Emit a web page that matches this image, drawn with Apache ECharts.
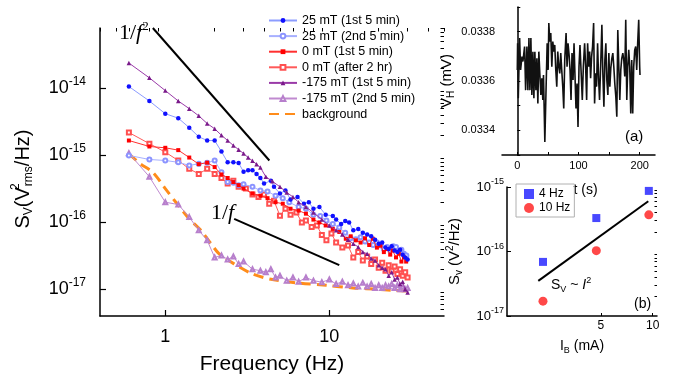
<!DOCTYPE html>
<html><head><meta charset="utf-8">
<script src="https://cdn.jsdelivr.net/npm/echarts@6/dist/echarts.min.js"></script>
<style>html,body{margin:0;padding:0;background:#fff}#c{width:673px;height:377px}</style>
</head><body><div id="c"></div>
<script>
// ---------- main panel data: [frequency (Hz), S_V (V^2/Hz)] ----------
const legendNames = ['25 mT (1st 5 min)','25 mT (2nd 5 min)','0 mT (1st 5 min)','0 mT (after 2 hr)','-175 mT (1st 5 min)','-175 mT (2nd 5 min)','background'];
const b25first = [[0.6,1.07e-14],[0.8,6.5e-15],[1.0,4.2e-15],[1.2,3.6e-15],[1.4,2.6e-15],[1.6,1.9e-15],[1.8,1.67e-15],[2.0,1.67e-15],[2.2,1.14e-15],[2.4,7.9e-16],[2.6,7.9e-16],[2.8,7.7e-16],[3.0,5.7e-16],[3.2,6.0e-16],[3.4,6.0e-16],[3.6,5.3e-16],[3.8,4.6e-16],[4.0,3.8e-16],[4.4,4.2e-16],[4.6,3.4e-16],[5.0,2.7e-16],[5.4,3.0e-16],[5.8,2.2e-16],[6.4,2.4e-16],[7.0,1.9e-16],[7.5,2.0e-16],[8.0,1.6e-16],[8.7,1.7e-16],[9.5,1.3e-16],[10.5,1.25e-16],[11.0,1.1e-16],[11.8,9.5e-17],[12.5,1.05e-16],[13.2,1.0e-16],[14,7.6e-17],[15,8.0e-17],[16,7.0e-17],[17,6.6e-17],[18,6.2e-17],[19,5.5e-17],[20,4.8e-17],[21,5.0e-17],[22,4.2e-17],[23,4.0e-17],[24,4.4e-17],[25,3.8e-17],[26,3.6e-17],[27,3.9e-17],[28,3.3e-17],[29,3.0e-17],[30,2.8e-17]];
const b25second = [[0.6,1.0e-15],[0.8,8.7e-16],[1.0,8.4e-16],[1.2,7.9e-16],[1.4,7.1e-16],[1.6,7.5e-16],[1.8,7.8e-16],[2.0,8.4e-16],[2.2,5.6e-16],[2.4,4.0e-16],[2.6,3.9e-16],[2.8,3.6e-16],[3.0,3.7e-16],[3.4,3.4e-16],[3.8,3.0e-16],[4.2,2.9e-16],[4.7,2.5e-16],[5.2,2.3e-16],[5.7,2.0e-16],[6.5,1.7e-16],[7.2,1.6e-16],[8.0,1.3e-16],[8.8,1.25e-16],[9.6,1.07e-16],[10.5,9.5e-17],[11.5,8.4e-17],[12.5,7.0e-17],[13.5,5.8e-17],[14.5,5.6e-17],[15.5,6.0e-17],[16.5,5.2e-17],[17.5,5.0e-17],[18.5,4.6e-17],[19.5,5.0e-17],[20.5,4.5e-17],[21.5,4.0e-17],[22.5,4.3e-17],[23.5,3.8e-17],[24.5,4.4e-17],[25.5,4.3e-17],[26.5,3.6e-17],[27.5,3.9e-17],[28.5,3.4e-17],[29.5,3.2e-17]];
const b0first = [[0.6,1.67e-15],[0.8,1.36e-15],[1.0,1.3e-15],[1.2,1.2e-15],[1.4,9.3e-16],[1.6,7.4e-16],[1.8,7.8e-16],[2.0,6.7e-16],[2.2,5.2e-16],[2.4,4.6e-16],[2.6,4.0e-16],[2.8,3.6e-16],[3.0,3.2e-16],[3.4,2.7e-16],[3.8,2.5e-16],[4.2,2.3e-16],[4.7,2.0e-16],[5.2,1.9e-16],[5.8,1.6e-16],[6.5,1.5e-16],[7.2,1.35e-16],[8.0,1.1e-16],[8.7,1.0e-16],[9.5,9.0e-17],[10.5,8.0e-17],[11.5,7.2e-17],[12.6,5.7e-17],[13.5,6.2e-17],[14.5,5.4e-17],[15.5,5.0e-17],[16.5,5.8e-17],[17.5,4.6e-17],[18.4,5.7e-17],[19.5,4.2e-17],[20.5,4.5e-17],[21.5,3.6e-17],[22.5,4.0e-17],[23.5,3.3e-17],[24.3,3.8e-17],[25.5,3.0e-17],[26.5,3.4e-17],[27.5,2.6e-17],[28.5,3.0e-17],[29.4,2.6e-17]];
const b0after2h = [[0.6,2.2e-15],[0.8,1.5e-15],[1.0,1.12e-15],[1.2,8.4e-16],[1.4,6.3e-16],[1.6,5.3e-16],[1.8,6.3e-16],[2.0,5.3e-16],[2.2,4.6e-16],[2.4,3.8e-16],[2.6,4.2e-16],[2.8,3.4e-16],[3.1,3.2e-16],[3.4,2.6e-16],[3.7,2.4e-16],[4.0,2.6e-16],[4.3,1.9e-16],[4.6,2.1e-16],[5.0,1.26e-16],[5.4,1.6e-16],[5.8,1.3e-16],[6.3,1.4e-16],[6.8,1.0e-16],[7.2,1.07e-16],[7.8,8.5e-17],[8.4,9.0e-17],[9.0,6.5e-17],[9.6,5.4e-17],[10.3,6.8e-17],[11,5.0e-17],[12,4.2e-17],[13,4.5e-17],[14,3.0e-17],[15,3.6e-17],[16,2.7e-17],[17,3.1e-17],[18,2.4e-17],[19,2.8e-17],[20,2.1e-17],[21,2.5e-17],[22,1.9e-17],[23,2.3e-17],[24,1.9e-17],[25,2.2e-17],[26,1.7e-17],[27,2.0e-17],[28,1.6e-17],[29,1.8e-17],[30,1.5e-17]];
const bm175first = [[0.6,2.4e-14],[0.8,1.44e-14],[1.0,9.3e-15],[1.2,6.5e-15],[1.4,5.0e-15],[1.6,3.9e-15],[1.8,3.0e-15],[2.0,2.5e-15],[2.2,2.0e-15],[2.4,1.67e-15],[2.6,1.41e-15],[2.8,1.22e-15],[3.0,1.07e-15],[3.2,9.3e-16],[3.4,8.3e-16],[3.6,7.4e-16],[3.8,6.6e-16],[4.1,4.8e-16],[4.5,4.1e-16],[5.0,3.4e-16],[5.5,2.8e-16],[6.0,2.4e-16],[6.5,2.0e-16],[7.2,1.7e-16],[8.0,1.4e-16],[9.0,1.1e-16],[10,9.0e-17],[11,7.6e-17],[12,6.6e-17],[13,5.5e-17],[14,4.8e-17],[15,4.3e-17],[16,3.6e-17],[17,3.4e-17],[18,2.9e-17],[19,2.7e-17],[20,2.3e-17],[21,2.1e-17],[22,2.0e-17],[23,1.6e-17],[24,1.8e-17],[25,1.4e-17],[26,1.5e-17],[27,1.2e-17],[28,1.3e-17],[29,1.0e-17],[30,9.0e-18]];
const bm175second = [[0.6,1.08e-15],[0.8,4.8e-16],[1.0,2.0e-16],[1.2,1.85e-16],[1.4,1.2e-16],[1.6,7.6e-17],[1.8,5.4e-17],[2.0,3.0e-17],[2.2,3.2e-17],[2.4,2.8e-17],[2.6,3.1e-17],[2.8,2.4e-17],[3.0,2.6e-17],[3.4,2.0e-17],[3.8,1.9e-17],[4.1,1.8e-17],[4.4,2.0e-17],[4.7,1.5e-17],[5.0,1.6e-17],[5.5,1.35e-17],[6.0,1.5e-17],[6.5,1.3e-17],[7.2,1.5e-17],[8.0,1.35e-17],[9.0,1.28e-17],[10,1.4e-17],[11,1.2e-17],[12,1.3e-17],[13,1.15e-17],[14,1.22e-17],[15,1.1e-17],[16,1.25e-17],[17,1.1e-17],[18,1.2e-17],[19,1.05e-17],[20,1.15e-17],[21,1.05e-17],[22,1.15e-17],[23,1.1e-17],[24,1.2e-17],[25,1.05e-17],[26,1.15e-17],[27,1.0e-17],[28,1.1e-17],[29,1.0e-17],[30,1.05e-17]];
const backgroundNoise = [[0.6,1.06e-15],[0.7,7.6e-16],[0.84,5.6e-16],[1.0,3.2e-16],[1.2,1.8e-16],[1.4,1.13e-16],[1.65,7.6e-17],[1.9,4.8e-17],[2.13,3.4e-17],[2.63,2.4e-17],[3.4,1.7e-17],[4.5,1.4e-17],[6.56,1.24e-17],[9.55,1.15e-17],[13.9,1.05e-17],[20.2,1.0e-17],[25.5,9.6e-18],[30,9.4e-18]];
const slopeF2Line = [[0.84,8.0e-14],[4.31,8.4e-16]];
const slopeF1Line = [[2.63,1.13e-16],[11.5,2.3e-17]];
// main axis ticks
const mainXLabels = [1,10];
const mainXMinor = [0.4,0.5,0.6,0.7,0.8,0.9,2,3,4,5,6,7,8,9,20,30,40,50];
const mainYLabels = [1e-17,1e-16,1e-15,1e-14];
const mainYMinor = [5e-18,6e-18,7e-18,8e-18,9e-18,2e-17,3e-17,4e-17,5e-17,6e-17,7e-17,8e-17,9e-17,2e-16,3e-16,4e-16,5e-16,6e-16,7e-16,8e-16,9e-16,2e-15,3e-15,4e-15,5e-15,6e-15,7e-15,8e-15,9e-15,2e-14,3e-14,4e-14,5e-14,6e-14,7e-14,8e-14];

// ---------- inset (a): V_H vs t ----------
const timeA = [0,0.5,1.6,3.8,5.4,7.6,9.2,11.9,13.6,15.7,17.3,19.0,20.6,22.2,23.8,25.5,27.1,28.7,30.4,32.0,33.6,35.2,36.9,38.5,40.1,41.7,42.8,45.0,47.2,48.8,50.4,51.5,53.1,54.7,56.4,58.0,59.6,61.2,62.9,64.5,66.1,67.8,69.4,71.0,72.6,74.3,75.9,77.5,79.7,81.3,82.9,84.6,86.2,87.8,89.4,91.1,92.7,94.3,95.9,97.6,99.2,100.8,102.4,104.6,106.2,107.9,110.0,111.7,113.3,114.9,116.5,118.2,119.8,121.4,123.0,124.7,126.3,127.9,129.5,131.2,132.8,134.4,136.6,138.2,139.8,141.5,143.1,144.7,146.3,148.0,149.6,151.2,152.8,154.5,156.1,157.7,159.3,161.0,162.6,164.2,165.9,167.5,169.1,170.7,172.4,174.0,175.6,177.2,178.9,180.5,182.1,183.7,185.4,187.0,188.6,190.2,191.9,193.5,195.1,196.7,198.4,200.0,200.5];
const vhA = [0.033645,0.033753,0.033530,0.033774,0.033645,0.033699,0.033679,0.033740,0.033563,0.033740,0.033563,0.033774,0.033563,0.033774,0.033543,0.033719,0.033530,0.033719,0.033563,0.033692,0.033509,0.033719,0.033624,0.033543,0.033611,0.033523,0.033624,0.033353,0.033590,0.033753,0.033645,0.033835,0.033760,0.033794,0.033658,0.033760,0.033719,0.033746,0.033645,0.033577,0.033719,0.033658,0.033631,0.033713,0.033645,0.033577,0.033489,0.033685,0.033794,0.033658,0.033753,0.033706,0.033645,0.033523,0.033713,0.033604,0.033753,0.033618,0.033489,0.033590,0.033414,0.033658,0.033746,0.033618,0.033523,0.033658,0.033753,0.033658,0.033523,0.033753,0.033658,0.033719,0.033611,0.033699,0.033740,0.033835,0.033509,0.033631,0.033577,0.033753,0.033611,0.033523,0.033692,0.033828,0.033631,0.033496,0.033685,0.033753,0.033604,0.033543,0.033713,0.033577,0.033652,0.033692,0.033713,0.033658,0.033590,0.033536,0.033455,0.033807,0.033658,0.033523,0.033645,0.033692,0.033713,0.033685,0.033618,0.033848,0.033523,0.033658,0.033726,0.033658,0.033468,0.033685,0.033468,0.033658,0.033726,0.033740,0.033645,0.033753,0.033848,0.033658,0.033624];
const aXLabels = [0,100,200];
const aXTicks = [0,50,100,150,200];
const aYLabels = [0.0334,0.0336,0.0338];
const aYTicks = [0.0333,0.0334,0.0335,0.0336,0.0337,0.0338,0.0339];

// ---------- inset (b): S_V vs I_B ----------
const currentB = [2.3,4.7,9.5];
const s4Hz = [6.9e-17,3.3e-16,8.7e-16];
const s10Hz = [1.7e-17,1.03e-16,3.7e-16];
const fitIsqLine = [[2.16,3.5e-17],[9.43,6.0e-16]];
const bXLabels = [5,10];
const bYLabels = [1e-17,1e-16,1e-15];
const bYMinor = [2e-17,3e-17,4e-17,5e-17,6e-17,7e-17,8e-17,9e-17,2e-16,3e-16,4e-16,5e-16,6e-16,7e-16,8e-16,9e-16];

const F = 'Liberation Sans';
const SERIF = 'Liberation Serif';
const BLACK = '#000';
const pow10 = v => '{b|10}{s|' + Math.round(Math.log10(v)) + '}';
const pair = (xs, ys) => xs.map((x, i) => [x, ys[i]]);

function mainLine(name, data, sym, lineColor, symColor, size, z) {
  return {name, type:'line', xAxisIndex:0, yAxisIndex:0, data, symbol:sym, symbolSize:size,
    showSymbol:true, lineStyle:{color:lineColor, width:1}, itemStyle:{color:symColor, borderWidth:1},
    z, animation:false};
}

const legendData = legendNames.map(n => n === 'background' ? {name:n, itemStyle:{opacity:0}} : n);

const chart = echarts.init(document.getElementById('c'));
chart.setOption({
  animation:false,
  backgroundColor:'#fff',
  textStyle:{fontFamily:F, color:BLACK},
  grid:[
    {left:100, top:28, width:344, height:288, outerBoundsMode:'none', containLabel:false},
    {left:502, top:7, width:153, height:148, outerBoundsMode:'none', containLabel:false},
    {left:507, top:187, width:150, height:129, outerBoundsMode:'none', containLabel:false}
  ],
  xAxis:[
    {gridIndex:0, type:'log', min:0.4, max:50,
      axisLine:{lineStyle:{color:BLACK, width:1.5}},
      axisTick:{inside:true, length:6, customValues:mainXLabels, lineStyle:{color:BLACK, width:1.2}},
      axisLabel:{customValues:mainXLabels, fontSize:18, color:BLACK, margin:12, fontFamily:F, formatter:v=>String(v)},
      splitLine:{show:false}, minorTick:{show:false},
      name:'Frequency (Hz)', nameLocation:'middle', nameGap:38, nameTextStyle:{fontSize:21, color:BLACK, fontFamily:F}},
    {gridIndex:0, type:'log', min:0.4, max:50, axisLine:{show:false},
      axisTick:{inside:true, length:3.5, customValues:mainXMinor, lineStyle:{color:BLACK, width:1}},
      axisLabel:{show:false}, splitLine:{show:false}},
    {gridIndex:1, type:'value', min:-25, max:225,
      axisLine:{lineStyle:{color:BLACK, width:1.5}},
      axisTick:{inside:true, length:3, customValues:aXTicks, lineStyle:{color:BLACK}},
      axisLabel:{customValues:aXLabels, fontSize:11, color:BLACK, margin:5, fontFamily:F},
      splitLine:{show:false},
      name:'t (s)', nameLocation:'middle', nameGap:28, nameTextStyle:{fontSize:14, color:BLACK, padding:[0,0,0,14]}},
    {gridIndex:2, type:'log', min:1.42, max:10.6,
      axisLine:{lineStyle:{color:BLACK, width:1.5}},
      axisTick:{inside:true, length:3, customValues:bXLabels, lineStyle:{color:BLACK}},
      axisLabel:{customValues:bXLabels, fontSize:12, color:BLACK, margin:4, fontFamily:F, formatter:v=>String(v)},
      splitLine:{show:false},
      name:'{m|I}{sub|B}{m| (mA)}', nameLocation:'middle', nameGap:22,
      nameTextStyle:{rich:{m:{fontSize:14, color:BLACK, fontFamily:F}, sub:{fontSize:9, color:BLACK, fontFamily:F, padding:[8,0,0,0]}}}}
  ],
  yAxis:[
    {gridIndex:0, type:'log', min:4e-18, max:8e-14,
      axisLine:{lineStyle:{color:BLACK, width:1.5}},
      axisTick:{inside:true, length:6, customValues:mainYLabels, lineStyle:{color:BLACK, width:1.2}},
      axisLabel:{customValues:mainYLabels, margin:14, formatter:pow10,
        rich:{b:{fontSize:18, color:BLACK, fontFamily:F}, s:{fontSize:12, color:BLACK, fontFamily:F, padding:[0,0,14,0]}}},
      splitLine:{show:false},
      name:'{m|S}{sub|V}{m|(V}{sup|2}{sub|rms}{m|/Hz)}', nameLocation:'middle', nameRotate:90, nameGap:64,
      nameTextStyle:{padding:[0,14,0,0], rich:{m:{fontSize:20, color:BLACK, fontFamily:F}, sub:{fontSize:12, color:BLACK, fontFamily:F, padding:[11,0,0,0]},
        sup:{fontSize:12, color:BLACK, fontFamily:F, padding:[0,0,14,0], width:1}}}},
    {gridIndex:0, type:'log', min:4e-18, max:8e-14, axisLine:{show:false},
      axisTick:{inside:true, length:3.5, customValues:mainYMinor, lineStyle:{color:BLACK, width:1}},
      axisLabel:{show:false}, splitLine:{show:false}},
    {gridIndex:1, type:'value', min:0.0333, max:0.0339,
      axisLine:{lineStyle:{color:BLACK, width:1.5}},
      axisTick:{inside:true, length:3, customValues:aYTicks, lineStyle:{color:BLACK}},
      axisLabel:{customValues:aYLabels, fontSize:11, color:BLACK, margin:7, fontFamily:F, formatter:v=>v.toFixed(4)},
      splitLine:{show:false},
      name:'{m|V}{sub|H}{m| (mV)}', nameLocation:'middle', nameRotate:90, nameGap:46,
      nameTextStyle:{rich:{m:{fontSize:15, color:BLACK, fontFamily:F}, sub:{fontSize:10, color:BLACK, fontFamily:F, padding:[8,0,0,0]}}}},
    {gridIndex:2, type:'log', min:1e-17, max:1e-15,
      axisLine:{lineStyle:{color:BLACK, width:1.5}},
      axisTick:{inside:true, length:4, customValues:bYLabels, lineStyle:{color:BLACK}},
      axisLabel:{customValues:bYLabels, margin:3, formatter:pow10,
        rich:{b:{fontSize:13, color:BLACK, fontFamily:F}, s:{fontSize:9, color:BLACK, fontFamily:F, padding:[0,0,10,0]}}},
      splitLine:{show:false},
      name:'{m|S}{sub|v}{m| (V}{sup|2}{m|/Hz)}', nameLocation:'middle', nameRotate:90, nameGap:42,
      nameTextStyle:{rich:{m:{fontSize:15, color:BLACK, fontFamily:F}, sub:{fontSize:10, color:BLACK, fontFamily:F, padding:[8,0,0,0]},
        sup:{fontSize:10, color:BLACK, fontFamily:F, padding:[0,0,10,0]}}}},
    {gridIndex:2, type:'log', min:1e-17, max:1e-15, axisLine:{show:false},
      axisTick:{inside:true, length:2.5, customValues:bYMinor, lineStyle:{color:BLACK}},
      axisLabel:{show:false}, splitLine:{show:false}}
  ],
  legend:[
    {data:legendData, orient:'vertical', left:268, top:14, padding:0, itemWidth:28, itemHeight:6, itemGap:2.6,
      textStyle:{fontSize:12.5, color:BLACK, fontFamily:F}, selectedMode:false},
    {data:['4 Hz','10 Hz'], orient:'vertical', left:516, top:184, padding:[4,4,3,8], itemWidth:10, itemHeight:10, itemGap:2,
      borderColor:'#b0b0b0', borderWidth:1, textStyle:{fontSize:12, color:BLACK, fontFamily:F}, selectedMode:false}
  ],
  series:[
    {name:'background', type:'line', xAxisIndex:0, yAxisIndex:0, data:backgroundNoise, symbol:'none', smooth:0.3,
      lineStyle:{color:'#ff8c1a', width:3, type:[10,6]}, itemStyle:{color:'#ff8c1a'}, z:2},
    mainLine('-175 mT (2nd 5 min)', bm175second, 'emptyTriangle', '#c08ad0', '#b77fcc', 4, 3),
    mainLine('0 mT (after 2 hr)', b0after2h, 'emptyRect', '#ff5a5a', '#ff5050', 4, 4),
    mainLine('25 mT (2nd 5 min)', b25second, 'emptyCircle', '#a8b0ff', '#8c94ff', 4, 5),
    mainLine('0 mT (1st 5 min)', b0first, 'rect', '#ff3030', '#ff0000', 4, 6),
    mainLine('25 mT (1st 5 min)', b25first, 'circle', '#8c9cff', '#1010ff', 4.5, 7),
    mainLine('-175 mT (1st 5 min)', bm175first, 'triangle', '#9a3aa8', '#7a1a8a', 4.5, 8),
    {type:'line', xAxisIndex:0, yAxisIndex:0, data:slopeF2Line, symbol:'none', clip:false, lineStyle:{color:BLACK, width:2}, z:9},
    {type:'line', xAxisIndex:0, yAxisIndex:0, data:slopeF1Line, symbol:'none', clip:false, lineStyle:{color:BLACK, width:2}, z:9},
    {type:'line', xAxisIndex:2, yAxisIndex:2, data:pair(timeA, vhA), symbol:'none', lineStyle:{color:'#111', width:1.6}},
    {name:'4 Hz', type:'scatter', xAxisIndex:3, yAxisIndex:4, data:pair(currentB, s4Hz), symbol:'rect', symbolSize:8, itemStyle:{color:'#1a1aff'}},
    {name:'10 Hz', type:'scatter', xAxisIndex:3, yAxisIndex:4, data:pair(currentB, s10Hz), symbol:'circle', symbolSize:9, itemStyle:{color:'#ff1a1a'}},
    {type:'line', xAxisIndex:3, yAxisIndex:4, data:fitIsqLine, symbol:'none', lineStyle:{color:BLACK, width:2}}
  ],
  graphic:[
    {type:'text', left:119, top:20, style:{text:'{a|1/}{f|f}{s|2}', rich:{
      a:{fontFamily:SERIF, fontSize:22, fill:BLACK}, f:{fontFamily:SERIF, fontSize:22, fontStyle:'italic', fill:BLACK},
      s:{fontFamily:SERIF, fontSize:13, fill:BLACK, padding:[0,0,14,0]}}}},
    {type:'text', left:211, top:202, style:{text:'{a|1/}{f|f}', rich:{
      a:{fontFamily:SERIF, fontSize:22, fill:BLACK}, f:{fontFamily:SERIF, fontSize:22, fontStyle:'italic', fill:BLACK}}}},
    {type:'text', left:625, top:129, style:{text:'(a)', font:'15px "Liberation Sans"', fill:BLACK}},
    {type:'text', left:634, top:297, style:{text:'(b)', font:'14px "Liberation Sans"', fill:BLACK}},
    {type:'text', left:551, top:276, style:{text:'{m|S}{sub|V}{m| ~ }{i|I}{sup|2}', rich:{
      m:{fontFamily:F, fontSize:14, fill:BLACK}, sub:{fontFamily:F, fontSize:9, fill:BLACK, padding:[8,0,0,0]},
      i:{fontFamily:F, fontSize:14, fontStyle:'italic', fill:BLACK}, sup:{fontFamily:F, fontSize:9, fill:BLACK, padding:[0,0,10,0]}}}}
  ]
});
</script>
</body></html>
